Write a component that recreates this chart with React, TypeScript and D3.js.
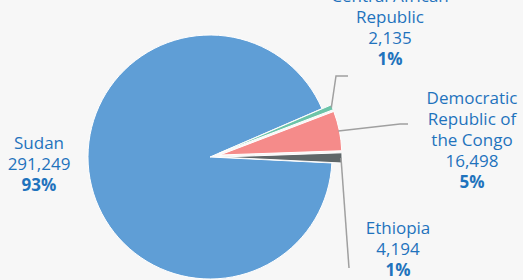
import React, { useEffect, useRef } from 'react';
import * as d3 from 'd3';

// refugee counts by country of origin
const countries = ['Sudan', 'Central African Republic', 'Democratic Republic of the Congo', 'Ethiopia'];
const values = [291249, 2135, 16498, 4194];
const percents = ['93%', '1%', '5%', '1%'];
const labelLines = [['Sudan'], ['Central African', 'Republic'], ['Democratic', 'Republic of', 'the Congo'], ['Ethiopia']];
const colors = ['#5f9ed6', '#6cc4a8', '#f58b8a', '#5f6769'];

// label layout (x center, first baseline) and connector bends
const labelPos = [
  { x: 39, y: 149 },
  { x: 390, y: 2 },
  { x: 472, y: 104 },
  { x: 398, y: 234 },
];
const connectors = [
  null,
  [[336, 76], [348, 76]],
  [[400, 124], [408, 124]],
  [[349, 268], [349, 268]],
];

const W = 523;
const H = 280;

export default function App() {
  const ref = useRef<SVGSVGElement>(null);

  useEffect(() => {
    const svg = d3.select(ref.current);
    svg.selectAll('*').remove();

    svg.append('rect').attr('width', W).attr('height', H).attr('fill', '#f7f7f7');

    const cx = 210, cy = 157, r = 122, slice = 10;
    const start = (92.8 * Math.PI) / 180;

    const pie = d3.pie<number>().sort(null).startAngle(start).endAngle(start + 2 * Math.PI);
    const arcs = pie(values);
    const arc = d3.arc<d3.PieArcDatum<number>>().innerRadius(0).outerRadius(r);

    const g = svg.append('g').attr('transform', `translate(${cx},${cy})`);

    const offset = (d: d3.PieArcDatum<number>, i: number) => {
      if (i === 0) return [0, 0];
      const a = (d.startAngle + d.endAngle) / 2;
      return [slice * Math.sin(a), -slice * Math.cos(a)];
    };

    g.selectAll('path.slice')
      .data(arcs)
      .enter()
      .append('path')
      .attr('class', 'slice')
      .attr('d', arc)
      .attr('transform', (d, i) => {
        const [dx, dy] = offset(d, i);
        return `translate(${dx},${dy})`;
      })
      .attr('fill', (d, i) => colors[i])
      .attr('stroke', '#ffffff')
      .attr('stroke-width', 1)
      .attr('stroke-linejoin', 'round');

    // connectors
    arcs.forEach((d, i) => {
      const c = connectors[i];
      if (!c) return;
      const a = (d.startAngle + d.endAngle) / 2;
      const [dx, dy] = offset(d, i);
      const sx = cx + dx + (r - 1) * Math.sin(a);
      const sy = cy + dy - (r - 1) * Math.cos(a);
      const pts: [number, number][] = [[sx, sy], ...(c as [number, number][])];
      svg.append('path')
        .attr('d', d3.line()(pts))
        .attr('fill', 'none')
        .attr('stroke', '#a0a0a0')
        .attr('stroke-width', 1.5);
    });

    // labels
    const fmt = d3.format(',');
    const lh = 21;
    labelPos.forEach((p, i) => {
      const t = svg.append('text')
        .attr('x', p.x)
        .attr('y', p.y)
        .attr('text-anchor', 'middle')
        .attr('fill', '#1f73bd')
        .style('font-family', '"Open Sans", sans-serif')
        .style('font-size', '17px');
      const lines = [...labelLines[i], fmt(values[i])];
      lines.forEach((s, j) => {
        t.append('tspan').attr('x', p.x).attr('y', p.y + j * lh).text(s);
      });
      t.append('tspan')
        .attr('x', p.x)
        .attr('y', p.y + lines.length * lh)
        .style('font-weight', 'bold')
        .text(percents[i]);
    });
  }, []);

  return (
    <svg
      ref={ref}
      width={W}
      height={H}
      style={{ position: 'absolute', left: 0, top: 0, display: 'block' }}
    />
  );
}
